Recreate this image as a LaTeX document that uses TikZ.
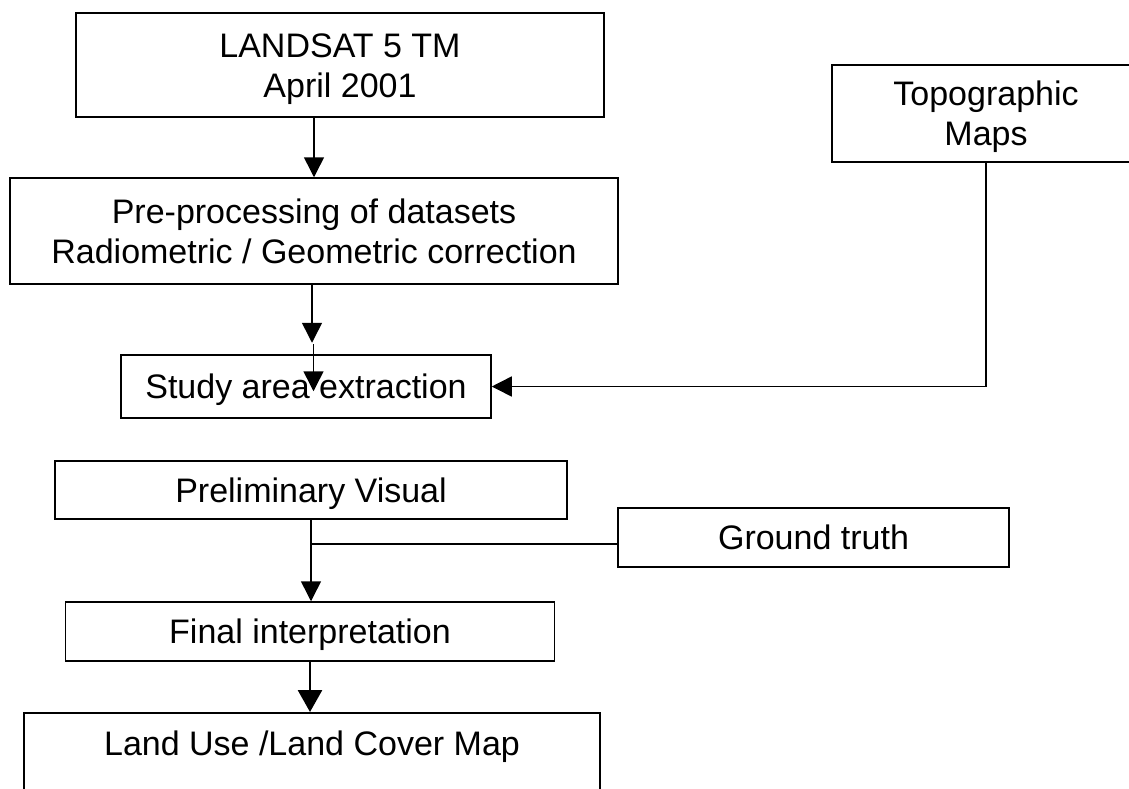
\documentclass[tikz,border=0pt]{standalone}
\usepackage{fontspec}
\setmainfont{Liberation Sans}
\usetikzlibrary{arrows.meta,calc}
\begin{document}
\begin{tikzpicture}[x=1pt,y=-1pt,
  box/.style={draw, line width=1.5pt, inner sep=0pt, align=center,
    text height=24.5pt, text depth=0pt, font=\fontsize{34}{40}\selectfont},
  twoline/.style={text height=64.5pt},
  arr/.style={line width=1.5pt, -{Triangle[length=20pt,width=20pt]}},
  thickarr/.style={line width=2.8pt, -{Triangle[length=22pt,width=24pt]}},
  ln/.style={line width=1.5pt}]
\useasboundingbox (0,0) rectangle (1129,788);
\clip (0,0) rectangle (1129,788);

\node[box, twoline, minimum width=528pt, minimum height=104pt] (landsat) at (340,65) {LANDSAT 5 TM\\April 2001};
\node[box, twoline, minimum width=608pt, minimum height=106pt] (prep) at (314,231) {Pre-processing of datasets\\Radiometric / Geometric correction};
\node[box, twoline, minimum width=308pt, minimum height=97pt] (topo) at (986,113.5) {Topographic\\Maps};
\node[box, minimum width=370pt, minimum height=63pt] (study) at (306,386.5) {Study area extraction};
\node[box, minimum width=512pt, minimum height=58pt] (prelim) at (311,490) {Preliminary Visual};
\node[box, minimum width=391pt, minimum height=59pt] (ground) at (813.5,537.5) {Ground truth};
\node[box, minimum width=489pt, minimum height=59pt] (final) at (310,631.5) {Final interpretation};
\node[box, anchor=north, minimum width=576pt, inner ysep=18pt, text depth=100pt] (land) at (312,712) {Land Use /Land Cover Map};

\draw[arr] (landsat.south -| prep.north) -- (prep.north);
\coordinate (a1) at ($(prep.south)+(-2,58)$);
\draw[arr] (prep.south) ++(-2,0) -- (a1);
\coordinate (a2) at ($(study.north)+(7.5,-10)$);
\coordinate (a3) at ($(study.north)+(7.5,37)$);
\draw[arr] (a2) -- (a3);
\draw[arr] (topo.south) |- (study.east);
\draw[arr] (prelim.south) -- (prelim.south |- final.north);
\coordinate (j) at ($(prelim.south)+(0,24)$);
\draw[ln] (j) -- (j -| ground.west);
\draw[thickarr] (final.south) -- (final.south |- land.north);
\end{tikzpicture}
\end{document}
